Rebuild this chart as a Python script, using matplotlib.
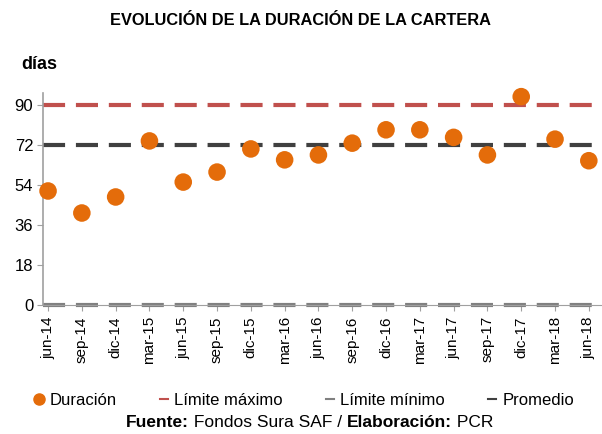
import matplotlib
matplotlib.use("Agg")
import matplotlib.pyplot as plt
from matplotlib.lines import Line2D
from matplotlib.offsetbox import TextArea, HPacker, AnchoredOffsetbox

plt.rcParams['font.family'] = ['Liberation Sans', 'DejaVu Sans']

categories = ["jun-14", "sep-14", "dic-14", "mar-15", "jun-15", "sep-15", "dic-15",
              "mar-16", "jun-16", "sep-16", "dic-16", "mar-17", "jun-17", "sep-17",
              "dic-17", "mar-18", "jun-18"]
duracion = [51.3, 41.4, 48.6, 73.8, 55.3, 59.8, 70.2, 65.3, 67.5, 72.8, 78.8, 78.8,
            75.4, 67.5, 93.7, 74.6, 64.9]
limite_maximo = 90
limite_minimo = 0
promedio = 72
yticks = [0, 18, 36, 54, 72, 90]

fig = plt.figure(figsize=(6.02, 4.34), dpi=100)
ax = fig.add_axes([0.0714, 0.297, 0.9286, 0.489])

x = list(range(len(categories)))
n = len(categories)
xl = (-0.15, n - 1 + 0.39)
dash = (5.3, 2.6)
ax.plot(xl, [limite_minimo] * 2, color="#808080", lw=3, dashes=dash, zorder=2, clip_on=False)
ax.plot(xl, [limite_maximo] * 2, color="#C0504D", lw=3, dashes=dash, zorder=2)
ax.plot(xl, [promedio] * 2, color="#404040", lw=3, dashes=dash, zorder=2)
ax.scatter(x, duracion, s=160, color="#E46C0A", edgecolors="none", zorder=3, clip_on=False)

ax.set_xlim(*xl)
ax.set_ylim(0, 95.4)
ax.set_yticks(yticks)
ax.set_xticks(x)
ax.set_xticklabels(categories, rotation=90, fontsize=11)
ax.tick_params(axis='y', labelsize=12, length=4, color="#A0A0A0", pad=3)
ax.tick_params(axis='x', length=4, color="#A0A0A0", pad=4)
for s in ["top", "right"]:
    ax.spines[s].set_visible(False)
ax.spines["left"].set_color("#A0A0A0")
ax.spines["bottom"].set_color("#A0A0A0")
ax.spines["left"].set_linewidth(1.2)

fig.text(0.5, 0.953, "EVOLUCIÓN DE LA DURACIÓN DE LA CARTERA", ha="center", va="center",
         fontsize=11.8, fontweight="bold")
fig.text(0.036, 0.852, "días", ha="left", va="center", fontsize=13, fontweight="bold")

handles = [
    Line2D([], [], marker="o", color="#E46C0A", ls="none", markersize=8),
    Line2D([], [], color="#C0504D", lw=1.5),
    Line2D([], [], color="#808080", lw=1.5),
    Line2D([], [], color="#404040", lw=1.5),
]
labels = ["Duración", "Límite máximo", "Límite mínimo", "Promedio"]
fig.legend(handles, labels, loc="center", bbox_to_anchor=(0.506, 0.077), ncol=4,
           frameon=False, fontsize=12, handlelength=0.5, handletextpad=0.35,
           columnspacing=2.6)

parts = [("Fuente:", "bold"), (" Fondos Sura SAF / ", "normal"),
         ("Elaboración:", "bold"), (" PCR", "normal")]
boxes = [TextArea(t, textprops=dict(fontsize=12.5, fontweight=w)) for t, w in parts]
pack = HPacker(children=boxes, align="baseline", pad=0, sep=0)
anch = AnchoredOffsetbox(loc="center", child=pack, frameon=False,
                         bbox_to_anchor=(0.514, 0.027), bbox_transform=fig.transFigure,
                         borderpad=0, pad=0)
fig.add_artist(anch)

fig.savefig("out.png", dpi=100)
